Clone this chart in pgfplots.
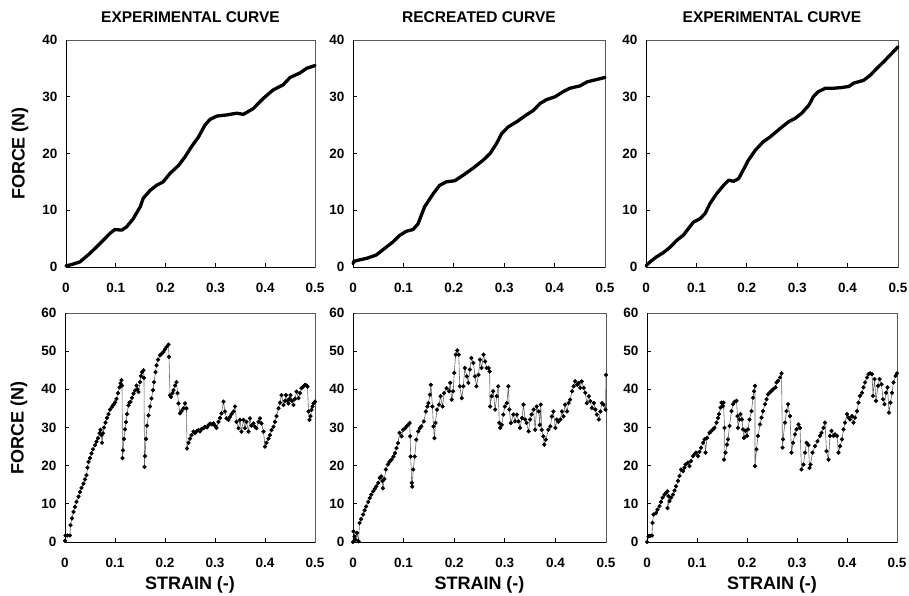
\documentclass[border=0pt]{standalone}
\usepackage{fontspec}
\setmainfont{Liberation Sans}
\usepackage{pgfplots}
\pgfplotsset{compat=1.18}

\pgfplotsset{
  panel/.style={
    scale only axis, anchor=south west,
    xmin=0, xmax=0.5,
    xtick={0,0.1,0.2,0.3,0.4,0.5},
    xticklabels={0,0.1,0.2,0.3,0.4,0.5},
    tick align=inside, xtick pos=left, ytick pos=left,
    major tick length=4pt,
    axis line style={black!65, line width=0.7pt},
    tick style={black, line width=0.7pt},
    ticklabel style={font=\bfseries\fontsize{13.5}{13.5}\selectfont},
    xticklabel style={yshift=-13pt},
    yticklabel style={xshift=-5pt},
    /pgf/number format/assume math mode=true,
    every axis title/.style={at={(0.5,1)}, anchor=center, yshift=23pt, font=\bfseries\fontsize{15.5}{16}\selectfont},
    every axis y label/.style={at={(rel axis cs:0,0.5)}, anchor=center, rotate=90, yshift=46pt, font=\bfseries\fontsize{18}{18}\selectfont},
    every axis x label/.style={at={(rel axis cs:0.5,0)}, anchor=center, yshift=-43pt, font=\bfseries\fontsize{18}{18}\selectfont},
    clip=false,
  },
  toprow/.style={panel, ymin=0, ymax=40, ytick={0,10,20,30,40}, height=227pt},
  botrow/.style={panel, ymin=0, ymax=60, ytick={0,10,20,30,40,50,60}, height=229pt},
  smooth curve/.style={black, line width=3.3pt, line join=round, line cap=round, mark=none},
  jag curve/.style={draw=black!60, line width=0.6pt, mark=*, mark size=1.8pt, mark options={black, solid, draw=black}},
}
\newcommand{\darkframe}{\draw[black, line width=0.8pt] (rel axis cs:0,1) -- (rel axis cs:0,0) -- (rel axis cs:1,0);}

\begin{document}
\begin{tikzpicture}[x=1pt,y=1pt]
\useasboundingbox (0,0) rectangle (909,595);

% ---------------- top left
\begin{axis}[toprow, at={(66pt,328pt)}, width=249pt, title={EXPERIMENTAL CURVE}, ylabel={FORCE (N)}]
\addplot[smooth curve] coordinates {
(0,0.2)(0.01,0.4)(0.028,0.9)(0.048,2.4)(0.068,4.1)(0.088,5.9)(0.098,6.6)(0.112,6.5)(0.122,7.1)(0.135,8.5)(0.149,10.6)(0.155,12.1)(0.169,13.5)(0.182,14.4)(0.195,15.0)(0.209,16.5)(0.226,17.9)(0.239,19.4)(0.252,21.2)(0.266,22.9)(0.279,25.0)(0.289,26.0)(0.303,26.6)(0.323,26.8)(0.343,27.1)(0.356,26.9)(0.376,27.9)(0.396,29.7)(0.416,31.2)(0.436,32.1)(0.450,33.4)(0.470,34.2)(0.483,35.0)(0.5,35.5)
};
\darkframe
\end{axis}

% ---------------- top middle
\begin{axis}[toprow, at={(353pt,328pt)}, width=252pt, title={RECREATED CURVE}]
\addplot[smooth curve] coordinates {
(0.0,0.6)(0.002,1.0)(0.01,1.2)(0.026,1.5)(0.046,2.1)(0.066,3.5)(0.079,4.4)(0.093,5.6)(0.106,6.3)(0.119,6.6)(0.129,7.6)(0.142,10.6)(0.159,12.9)(0.172,14.4)(0.185,15.0)(0.202,15.2)(0.219,16.2)(0.238,17.4)(0.258,18.8)(0.272,20.0)(0.285,21.8)(0.295,23.5)(0.308,24.7)(0.325,25.6)(0.344,26.8)(0.358,27.6)(0.371,28.8)(0.384,29.5)(0.401,30.0)(0.417,30.9)(0.430,31.5)(0.450,31.9)(0.464,32.6)(0.477,32.9)(0.5,33.4)
};
\darkframe
\end{axis}

% ---------------- top right
\begin{axis}[toprow, at={(646pt,328pt)}, width=252pt, title={EXPERIMENTAL CURVE}]
\addplot[smooth curve] coordinates {
(0,0.2)(0.008,0.9)(0.021,1.8)(0.034,2.5)(0.048,3.5)(0.061,4.7)(0.074,5.6)(0.087,7.1)(0.094,7.9)(0.107,8.5)(0.117,9.4)(0.127,11.2)(0.140,12.9)(0.154,14.4)(0.164,15.3)(0.174,15.1)(0.184,15.6)(0.193,17.1)(0.203,18.8)(0.217,20.6)(0.233,22.1)(0.246,22.9)(0.266,24.4)(0.283,25.6)(0.296,26.2)(0.309,27.1)(0.323,28.5)(0.332,30.0)(0.342,30.9)(0.356,31.5)(0.372,31.5)(0.386,31.6)(0.402,31.8)(0.412,32.4)(0.432,32.9)(0.445,33.8)(0.458,35.0)(0.472,36.2)(0.485,37.4)(0.5,38.8)
};
\darkframe
\end{axis}

% ---------------- bottom left
\begin{axis}[botrow, at={(65pt,53pt)}, width=250pt, ylabel={FORCE (N)}, xlabel={STRAIN (-)}]
\addplot[jag curve] coordinates {
(0,0.3)(0.001,1.7)(0.005,1.7)(0.01,1.7)(0.011,4.4)(0.014,6.2)(0.017,7.9)(0.02,9.2)(0.023,10.5)(0.027,11.9)(0.03,13.1)(0.033,14.2)(0.037,15.3)(0.04,16.4)(0.043,17.5)(0.045,19.5)(0.047,21.0)(0.05,22.0)(0.053,23.2)(0.056,24.3)(0.06,25.4)(0.063,26.3)(0.066,27.2)(0.069,28.5)(0.071,29.4)(0.073,28.0)(0.074,26.0)(0.076,28.5)(0.078,30.0)(0.081,31.3)(0.084,32.5)(0.087,33.5)(0.09,34.7)(0.094,35.4)(0.097,36.0)(0.1,36.6)(0.103,37.5)(0.106,39.0)(0.109,40.5)(0.111,41.6)(0.113,42.4)(0.114,41.0)
(0.115,22.0)(0.116,24.0)(0.118,27.0)(0.12,29.5)(0.122,31.4)(0.124,33.5)(0.127,35.8)(0.129,36.5)(0.131,36.7)(0.134,37.8)(0.137,38.9)(0.14,39.7)(0.143,41.0)(0.145,40.0)(0.147,39.3)(0.15,41.9)(0.152,43.5)(0.154,44.5)(0.157,45.0)(0.158,43.0)
(0.159,19.7)(0.16,22.5)(0.162,27.0)(0.164,30.5)(0.167,33.2)(0.17,35.5)(0.173,37.6)(0.176,39.8)(0.178,41.9)(0.181,44.5)(0.183,46.3)(0.186,47.8)(0.19,48.9)(0.193,49.3)(0.197,49.8)(0.2,50.5)(0.203,51.1)(0.207,51.7)(0.208,48.5)
(0.21,38.4)(0.212,38.0)(0.215,39.0)(0.217,39.8)(0.22,41.0)(0.223,41.9)(0.225,39.0)(0.227,36.3)(0.23,33.7)(0.233,34.3)(0.237,35.0)(0.24,36.3)(0.243,35.0)
(0.244,24.5)(0.247,26.0)(0.25,27.1)(0.253,28.0)(0.257,28.9)(0.26,28.5)(0.263,29.0)(0.267,29.3)(0.27,29.0)(0.273,29.6)(0.277,29.8)(0.28,30.2)(0.284,30.0)(0.287,30.6)(0.29,31.0)(0.294,30.8)(0.297,31.1)(0.3,30.5)(0.303,29.9)(0.307,31.5)(0.31,32.5)(0.313,33.7)(0.317,36.8)(0.32,34.2)(0.323,32.4)(0.327,32.0)(0.33,32.8)(0.333,33.5)(0.337,34.2)(0.34,35.5)(0.343,31.5)(0.347,29.8)(0.35,32.0)(0.353,28.9)(0.357,32.0)(0.36,29.8)(0.363,31.5)(0.367,28.9)(0.37,32.4)(0.373,30.5)(0.377,31.1)(0.38,30.2)(0.383,29.8)(0.387,31.5)(0.39,32.4)(0.393,31.1)(0.397,28.9)(0.4,25.0)(0.403,26.0)(0.407,27.1)(0.41,28.0)(0.413,29.3)(0.417,30.2)(0.42,31.5)(0.423,33.0)(0.427,35.0)(0.43,36.5)(0.433,38.5)(0.437,35.9)(0.44,37.0)(0.442,38.5)(0.445,37.0)(0.447,36.3)(0.449,37.5)(0.451,38.5)(0.454,37.0)(0.457,35.9)(0.46,37.5)(0.463,39.4)(0.467,37.7)(0.47,39.0)(0.473,40.3)(0.477,40.8)(0.48,41.2)(0.483,41.0)(0.485,40.7)(0.487,34.2)(0.489,32.0)(0.491,33.0)(0.493,34.6)(0.495,35.5)(0.497,36.3)(0.5,36.8)
};
\darkframe
\end{axis}

% ---------------- bottom middle
\begin{axis}[botrow, at={(353pt,53pt)}, width=253pt, xlabel={STRAIN (-)}]
\addplot[jag curve] coordinates {
(0,0)(0.001,2.8)(0.003,1.5)(0.005,0.6)(0.008,2.4)(0.011,0.2)(0.013,5.0)(0.016,6.0)(0.02,7.2)(0.023,8.3)(0.026,9.3)(0.03,10.5)(0.033,11.5)(0.036,12.4)(0.04,13.3)(0.043,13.9)(0.046,14.6)(0.05,15.5)(0.053,16.8)(0.056,17.2)(0.058,16.0)(0.059,14.1)(0.062,16.5)(0.065,19.0)(0.069,20.3)(0.072,21.0)(0.076,21.6)(0.08,22.4)(0.083,23.3)(0.086,24.6)(0.089,25.9)(0.092,28.6)(0.096,27.7)(0.099,29.4)(0.103,29.8)(0.106,30.3)(0.109,30.7)(0.112,31.2)(0.113,27.7)(0.114,22.4)(0.116,15.5)(0.117,14.5)(0.119,19.0)(0.122,22.4)(0.125,26.8)(0.129,29.0)(0.132,29.8)(0.135,30.3)(0.14,31.6)(0.144,34.2)(0.147,35.5)(0.149,36.4)(0.152,38.6)(0.154,41.2)(0.157,35.5)(0.159,30.3)(0.161,27.2)(0.163,31.2)(0.166,34.7)(0.17,36.0)(0.173,38.2)(0.177,35.5)(0.18,39.0)(0.185,40.3)(0.19,39.5)(0.192,41.7)(0.195,37.3)(0.198,39.5)(0.2,44.3)(0.203,49.1)(0.206,50.2)(0.209,49.1)(0.211,40.8)(0.215,37.7)(0.218,40.8)(0.221,45.6)(0.225,43.4)(0.228,41.7)(0.231,45.2)(0.234,48.2)(0.238,46.9)(0.241,43.4)(0.244,40.8)(0.248,43.8)(0.251,47.8)(0.254,45.6)(0.258,49.1)(0.261,47.3)(0.264,45.6)(0.268,45.6)(0.27,44.7)(0.271,35.5)(0.274,38.2)(0.277,39.5)(0.281,34.7)(0.284,38.2)(0.287,40.8)(0.289,31.2)(0.291,29.9)(0.294,30.7)(0.297,33.4)(0.3,35.5)(0.304,36.4)(0.307,40.8)(0.309,34.7)(0.312,31.2)(0.317,33.4)(0.32,31.6)(0.324,33.4)(0.327,31.6)(0.33,29.9)(0.334,32.5)(0.337,36.0)(0.34,32.1)(0.343,31.2)(0.347,29.0)(0.35,32.1)(0.353,33.4)(0.357,34.7)(0.36,29.4)(0.363,35.5)(0.367,34.2)(0.369,30.7)(0.371,36.0)(0.373,29.4)(0.376,27.7)(0.378,25.5)(0.381,26.8)(0.386,29.4)(0.39,30.3)(0.393,32.9)(0.396,34.2)(0.4,29.9)(0.403,32.1)(0.406,31.5)(0.41,32.1)(0.413,34.2)(0.416,32.9)(0.419,36.0)(0.423,34.2)(0.426,36.4)(0.429,37.3)(0.433,39.5)(0.436,40.8)(0.439,42.1)(0.443,41.2)(0.446,41.7)(0.449,40.4)(0.452,42.1)(0.456,40.4)(0.459,39.1)(0.462,36.4)(0.466,38.2)(0.469,36.9)(0.472,35.1)(0.476,36.4)(0.479,34.7)(0.482,33.4)(0.486,32.1)(0.489,34.2)(0.492,36.4)(0.495,36.0)(0.499,34.7)(0.5,43.8)
};
\darkframe
\end{axis}

% ---------------- bottom right
\begin{axis}[botrow, at={(647pt,53pt)}, width=250pt, xlabel={STRAIN (-)}]
\addplot[jag curve] coordinates {
(0,0)(0.003,1.5)(0.006,1.6)(0.01,1.7)(0.011,5.0)(0.013,7.2)(0.018,7.6)(0.021,8.5)(0.025,9.4)(0.028,10.5)(0.031,11.6)(0.035,12.4)(0.038,12.9)(0.041,13.3)(0.043,12.0)(0.041,8.9)(0.045,10.7)(0.048,11.6)(0.052,12.4)(0.055,13.5)(0.058,14.6)(0.062,16.0)(0.065,17.3)(0.068,19.0)(0.072,18.6)(0.075,19.5)(0.077,20.3)(0.082,20.8)(0.085,19.9)(0.088,21.2)(0.092,22.5)(0.095,23.0)(0.098,23.4)(0.102,22.5)(0.105,23.6)(0.108,24.7)(0.112,26.0)(0.115,26.9)(0.117,23.4)(0.12,27.3)(0.125,28.6)(0.128,29.0)(0.132,29.5)(0.135,29.9)(0.139,31.3)(0.142,32.5)(0.144,33.5)(0.147,35.2)(0.149,36.5)(0.152,35.6)(0.153,36.5)(0.155,29.9)(0.154,21.6)(0.157,23.4)(0.16,25.5)(0.162,26.9)(0.165,30.4)(0.169,34.3)(0.172,36.1)(0.175,36.7)(0.179,37.0)(0.181,33.0)(0.182,29.9)(0.185,32.1)(0.187,33.5)(0.19,32.1)(0.192,29.5)(0.194,27.3)(0.197,29.1)(0.2,27.8)(0.202,29.5)(0.205,32.1)(0.209,34.3)(0.212,37.8)(0.214,39.5)(0.216,40.9)(0.216,19.9)(0.219,24.3)(0.222,27.8)(0.226,30.8)(0.229,32.6)(0.232,34.3)(0.236,36.1)(0.239,37.4)(0.242,38.7)(0.246,39.2)(0.249,39.6)(0.252,40.0)(0.257,40.5)(0.259,41.8)(0.262,42.2)(0.266,43.1)(0.269,44.2)(0.271,24.7)(0.272,26.9)(0.276,31.3)(0.279,34.3)(0.282,36.1)(0.286,33.0)(0.289,23.4)(0.292,26.0)(0.296,28.2)(0.299,29.5)(0.303,30.8)(0.306,29.9)(0.309,19.0)(0.313,20.3)(0.316,23.4)(0.319,26.0)(0.323,25.4)(0.325,19.4)(0.327,20.3)(0.331,23.4)(0.336,25.1)(0.341,26.4)(0.346,27.8)(0.349,28.6)(0.353,29.9)(0.356,31.3)(0.359,23.8)(0.363,21.6)(0.366,27.8)(0.369,29.1)(0.373,27.8)(0.376,28.2)(0.38,27.8)(0.383,23.4)(0.386,25.1)(0.39,26.9)(0.393,29.5)(0.396,31.3)(0.4,33.5)(0.403,32.6)(0.406,32.1)(0.41,33.0)(0.413,31.3)(0.416,32.6)(0.42,34.3)(0.423,36.5)(0.426,38.3)(0.43,39.1)(0.433,40.5)(0.436,41.8)(0.44,43.1)(0.443,44.0)(0.446,44.2)(0.45,44.0)(0.452,38.3)(0.455,42.7)(0.458,37.0)(0.462,40.9)(0.465,42.7)(0.469,41.3)(0.472,37.4)(0.475,36.1)(0.478,39.1)(0.481,40.5)(0.484,33.9)(0.487,36.5)(0.49,39.1)(0.493,41.8)(0.497,43.5)(0.5,44.2)
};
\darkframe
\end{axis}
\end{tikzpicture}
\end{document}
